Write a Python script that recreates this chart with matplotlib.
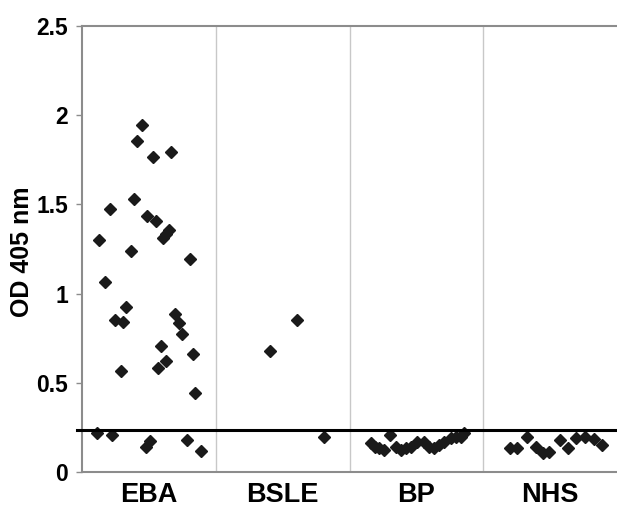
import matplotlib
matplotlib.use("Agg")
import matplotlib.pyplot as plt

categories = ["EBA", "BSLE", "BP", "NHS"]
cutoff = 0.235

eba_x = [0.95, 0.908, 1.03, 1.169, 0.707, 0.89, 0.987, 1.05, 1.147, 1.127, 1.107,
         0.627, 0.863, 1.311, 0.669, 0.828, 0.749, 0.808, 1.192, 1.226, 1.251,
         1.087, 1.129, 1.069, 1.331, 0.789, 1.346, 0.61, 0.726, 0.975, 1.01,
         1.284, 1.39]
eba_y = [1.946, 1.858, 1.768, 1.796, 1.476, 1.532, 1.437, 1.405, 1.354, 1.336, 1.311,
         1.298, 1.241, 1.196, 1.063, 0.925, 0.854, 0.839, 0.888, 0.838, 0.771,
         0.707, 0.623, 0.582, 0.664, 0.565, 0.444, 0.216, 0.207, 0.142, 0.173,
         0.179, 0.116]

bsle_x = [1.908, 2.11, 2.311]
bsle_y = [0.679, 0.851, 0.198]

bp_x = [2.662, 2.692, 2.724, 2.761, 2.804, 2.849, 2.886, 2.923, 2.96, 3.002,
        3.06, 3.097, 3.134, 3.172, 3.209, 3.259, 3.296, 3.334, 3.358]
bp_y = [0.161, 0.142, 0.133, 0.123, 0.207, 0.142, 0.123, 0.133, 0.142, 0.170,
        0.170, 0.142, 0.133, 0.151, 0.170, 0.189, 0.198, 0.198, 0.217]

nhs_x = [3.699, 3.756, 3.826, 3.893, 3.943, 3.993, 4.072, 4.137, 4.196, 4.261,
         4.328, 4.386]
nhs_y = [0.133, 0.133, 0.198, 0.138, 0.105, 0.114, 0.179, 0.133, 0.189, 0.198,
         0.185, 0.151]

y_ticks = [0, 0.5, 1, 1.5, 2, 2.5]
y_tick_labels = ["0", "0.5", "1", "1.5", "2", "2.5"]

font = ["Liberation Sans", "DejaVu Sans"]

fig = plt.figure(figsize=(6.17, 5.23), dpi=100)
ax = fig.add_axes([82 / 617, 1 - 472 / 523, 535 / 617, (472 - 26) / 523])

mk = dict(marker="D", linestyle="none", markersize=6.2, color="#1a1a1a",
          markeredgecolor="#1a1a1a", zorder=4)
for xs, ys in [(eba_x, eba_y), (bsle_x, bsle_y), (bp_x, bp_y), (nhs_x, nhs_y)]:
    ax.plot(xs, ys, **mk)

for b in [1.5, 2.5, 3.5]:
    ax.axvline(b, color="#c8c8c8", lw=1.0, zorder=1)

ax.axhline(cutoff, xmin=-0.01, xmax=1.0, color="black", lw=2.2, zorder=5, clip_on=False)

ax.set_xlim(0.5, 4.5)
ax.set_ylim(0, 2.5)

for s in ["left", "bottom", "top"]:
    ax.spines[s].set_color("#8c8c8c")
    ax.spines[s].set_linewidth(1.5)
ax.spines["right"].set_visible(False)

ax.set_yticks(y_ticks)
ax.set_yticklabels(y_tick_labels, fontfamily=font, fontweight="bold", fontsize=16.5)
ax.tick_params(axis="y", direction="out", length=4, width=1, color="#8c8c8c", pad=6)

ax.set_xticks([1, 2, 3, 4])
ax.set_xticklabels(categories, fontfamily=font, fontweight="bold", fontsize=19.5)
ax.tick_params(axis="x", length=0, pad=7)

ax.set_ylabel("OD 405 nm", fontfamily=font, fontweight="bold", fontsize=18)
ax.yaxis.set_label_coords(-48 / 535, 0.493)

fig.savefig("out.png", dpi=100)
